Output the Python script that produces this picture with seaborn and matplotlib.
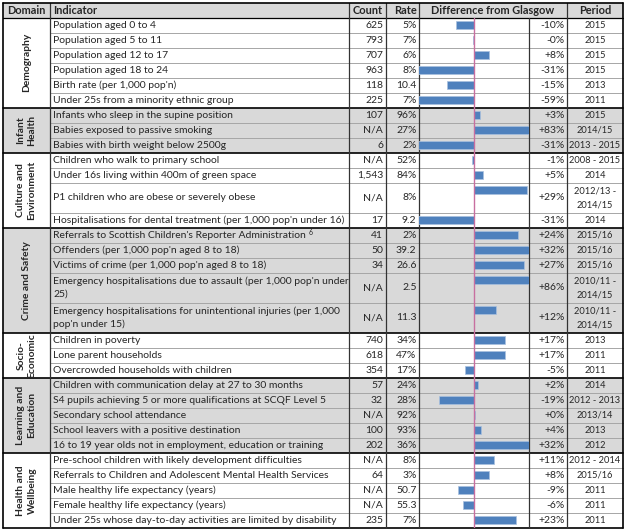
import itertools
import pandas as pd
import seaborn as sns
import matplotlib.pyplot as plt
from matplotlib.patches import Rectangle

sns.set_theme(style="white")
plt.rcParams['font.family'] = ['Lato', 'DejaVu Sans']

domain = (["Demography"] * 6 + ["Infant\nHealth"] * 3 + ["Culture and\nEnvironment"] * 4
          + ["Crime and Safety"] * 5 + ["Socio-\nEconomic"] * 3
          + ["Learning and\nEducation"] * 5 + ["Health and\nWellbeing"] * 5)

indicators = [
  "Population aged 0 to 4",
  "Population aged 5 to 11",
  "Population aged 12 to 17",
  "Population aged 18 to 24",
  "Birth rate (per 1,000 pop'n)",
  "Under 25s from a minority ethnic group",
  "Infants who sleep in the supine position",
  "Babies exposed to passive smoking",
  "Babies with birth weight below 2500g",
  "Children who walk to primary school",
  "Under 16s living within 400m of green space",
  "P1 children who are obese or severely obese",
  "Hospitalisations for dental treatment (per 1,000 pop'n under 16)",
  "Referrals to Scottish Children's Reporter Administration",
  "Offenders (per 1,000 pop'n aged 8 to 18)",
  "Victims of crime (per 1,000 pop'n aged 8 to 18)",
  "Emergency hospitalisations due to assault (per 1,000 pop'n under\n25)",
  "Emergency hospitalisations for unintentional injuries (per 1,000\npop'n under 15)",
  "Children in poverty",
  "Lone parent households",
  "Overcrowded households with children",
  "Children with communication delay at 27 to 30 months",
  "S4 pupils achieving 5 or more qualifications at SCQF Level 5",
  "Secondary school attendance",
  "School leavers with a positive destination",
  "16 to 19 year olds not in employment, education or training",
  "Pre-school children with likely development difficulties",
  "Referrals to Children and Adolescent Mental Health Services",
  "Male healthy life expectancy (years)",
  "Female healthy life expectancy (years)",
  "Under 25s whose day-to-day activities are limited by disability",
]
# footnote markers on indicator labels
notes = {13: "6"}

counts = ["625", "793", "707", "963", "118", "225", "107", "N/A", "6", "N/A", "1,543",
          "N/A", "17", "41", "50", "34", "N/A", "N/A", "740", "618", "354", "57", "32",
          "N/A", "100", "202", "N/A", "64", "N/A", "N/A", "235"]

rates = ["5%", "7%", "6%", "8%", "10.4", "7%", "96%", "27%", "2%", "52%", "84%", "8%",
         "9.2", "2%", "39.2", "26.6", "2.5", "11.3", "34%", "47%", "17%", "24%", "28%",
         "92%", "93%", "36%", "8%", "3%", "50.7", "55.3", "7%"]

diffs = [-10, -0.3, 8, -31, -15, -59, 3, 83, -31, -1, 5, 29, -31, 24, 32, 27, 86, 12,
         17, 17, -5, 2, -19, 0.3, 4, 32, 11, 8, -9, -6, 23]

periods = ["2015", "2015", "2015", "2015", "2013", "2011", "2015", "2014/15",
           "2013 - 2015", "2008 - 2015", "2014", "2012/13 -\n2014/15", "2014", "2015/16",
           "2015/16", "2015/16", "2010/11 -\n2014/15", "2010/11 -\n2014/15", "2013",
           "2011", "2011", "2014", "2012 - 2013", "2013/14", "2013", "2012",
           "2012 - 2014", "2015/16", "2011", "2011", "2011"]

# layout in pixels
W, H = 624, 529
top, unit = 2.7, 15.0
cols = [3, 50, 349, 386, 419, 529, 567, 623]
grey = "#d9d9d9"
fs = 7.5
hfs = 7.9

lines = [max(a.count("\n"), b.count("\n")) + 1 for a, b in zip(indicators, periods)]
row_top = [0.0]
for n in lines:
  row_top.append(row_top[-1] + n)
total = row_top[-1]

def ypx(u):
  return top + unit * (u + 1)

fig = plt.figure(figsize=(W / 100, H / 100), dpi=100)
ax = fig.add_axes([0, 0, 1, 1])
ax.set_xlim(0, W)
ax.set_ylim(H, 0)
ax.axis("off")

# header
ax.add_patch(Rectangle((cols[0], top), cols[-1] - cols[0], unit, color=grey, lw=0))
hy = top + unit / 2
ax.text((cols[0] + cols[1]) / 2, hy, "Domain", ha="center", va="center", fontsize=hfs, weight="bold")
ax.text(cols[1] + 3, hy, "Indicator", ha="left", va="center", fontsize=hfs, weight="bold")
ax.text((cols[2] + cols[3]) / 2, hy, "Count", ha="center", va="center", fontsize=hfs, weight="bold")
ax.text(cols[4] - 2, hy, "Rate", ha="right", va="center", fontsize=hfs, weight="bold")
ax.text((cols[4] + cols[6]) / 2, hy, "Difference from Glasgow", ha="center", va="center", fontsize=hfs, weight="bold")
ax.text((cols[6] + cols[7]) / 2, hy, "Period", ha="center", va="center", fontsize=hfs, weight="bold")

# domain groups
start = 0
for gi, (name, grp) in enumerate(itertools.groupby(domain)):
  n = len(list(grp))
  y0, y1 = ypx(row_top[start]), ypx(row_top[start + n])
  if gi % 2 == 1:
    ax.add_patch(Rectangle((cols[0], y0), cols[-1] - cols[0], y1 - y0, color=grey, lw=0))
  ax.text((cols[0] + cols[1]) / 2, (y0 + y1) / 2, name, rotation=90, ha="center",
          va="center", fontsize=7.4, weight="bold", multialignment="center", linespacing=1.3)
  for i in range(start + 1, start + n):
    ax.plot([cols[1], cols[-1]], [ypx(row_top[i])] * 2, color="#a6a6a6", lw=0.7)
  ax.plot([cols[0], cols[-1]], [y1, y1], color="black", lw=1.2)
  start += n

# row texts
fig.canvas.draw()
renderer = fig.canvas.get_renderer()
inv = ax.transData.inverted()
for i in range(len(indicators)):
  y0, y1 = ypx(row_top[i]), ypx(row_top[i + 1])
  yc = (y0 + y1) / 2
  t = ax.text(cols[1] + 3, yc, indicators[i], ha="left", va="center", fontsize=fs, linespacing=1.5)
  if i in notes:
    bb = t.get_window_extent(renderer)
    xe = inv.transform((bb.x1, bb.y1))[0]
    ax.text(xe + 3, yc - 2.5, notes[i], ha="left", va="center", fontsize=5)
  ax.text(cols[3] - 3, yc, counts[i], ha="right", va="center", fontsize=fs)
  ax.text(cols[4] - 2.5, yc, rates[i], ha="right", va="center", fontsize=fs)
  ax.text(cols[6] - 2.5, yc, f"{diffs[i]:+.0f}%", ha="right", va="center", fontsize=fs)
  ax.text((cols[6] + cols[7]) / 2, yc, periods[i], ha="center", va="center", fontsize=6.7,
          linespacing=1.7)

# grid lines
ybot = ypx(total)
ax.plot([cols[0], cols[-1]], [top + unit] * 2, color="black", lw=0.9)
for j, x in enumerate(cols):
  y_start = top + unit if j == 5 else top
  lw = 1.2 if j in (0, len(cols) - 1) else 0.9
  ax.plot([x, x], [y_start, ybot], color="black" if lw > 1 else "#333333", lw=lw)
ax.plot([cols[0], cols[-1]], [top, top], color="black", lw=1.2)

# bars
bax = fig.add_axes([cols[4] / W, (H - ybot) / H, (cols[5] - cols[4]) / W, (ybot - top - unit) / H])
bar_df = pd.DataFrame({"diff": diffs, "pos": [row_top[i] + 0.5 for i in range(len(diffs))]})
sns.barplot(data=bar_df, x="diff", y="pos", orient="y", native_scale=True, width=0.5,
            color="#4f81bd", saturation=1, edgecolor="#a9c1df", linewidth=0.5,
            errorbar=None, ax=bax)
bax.set_xlim(-30, 30)
bax.set_ylim(total, 0)
bax.axvline(0, color="#c86fa0", lw=1.0, zorder=5)
bax.axis("off")
bax.patch.set_alpha(0)

fig.savefig("out.png", dpi=100)
